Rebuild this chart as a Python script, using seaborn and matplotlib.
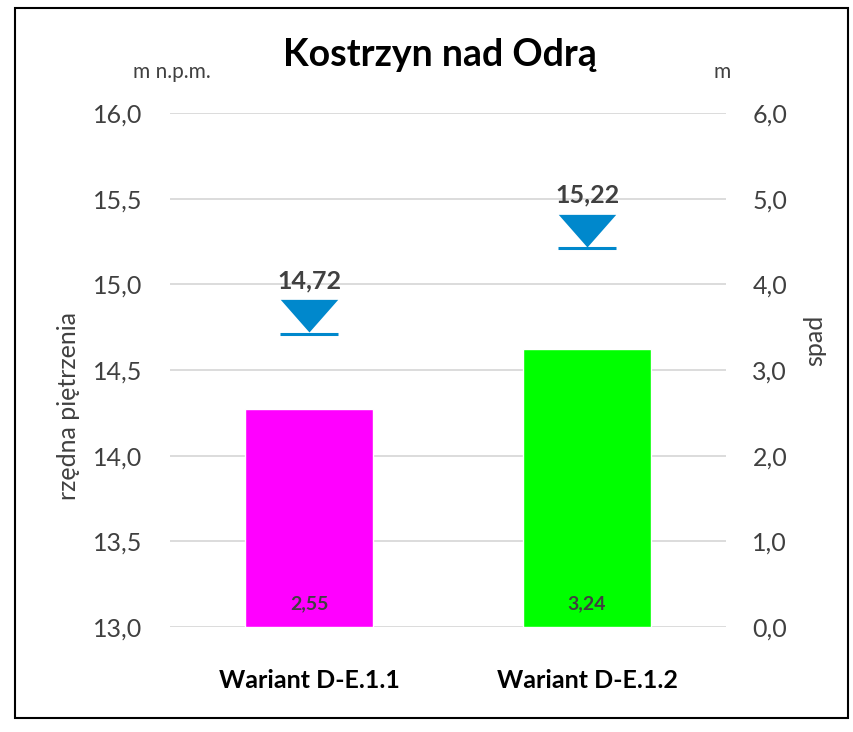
import numpy as np
import pandas as pd
import matplotlib
matplotlib.use("Agg")
import matplotlib.pyplot as plt
from matplotlib.path import Path
from matplotlib.patches import Rectangle
from matplotlib.ticker import FuncFormatter, MultipleLocator
import seaborn as sns

# data
warianty = ["Wariant D-E.1.1", "Wariant D-E.1.2"]
spad = [2.55, 3.24]              # m (right axis, bars)
rzedna = [14.72, 15.22]          # m n.p.m. (left axis, water level markers)
bar_colors = ["#FF00FF", "#00FF00"]

sns.set_theme(style="white")
plt.rcParams["font.family"] = ["Lato", "DejaVu Sans"]

def comma(fmt):
    return FuncFormatter(lambda v, p: (fmt % v).replace(".", ","))

fig = plt.figure(figsize=(8.54, 7.32), dpi=100)
ax = fig.add_axes([170 / 854, 1 - 627 / 732, 556 / 854, 514 / 732])
ax2 = ax.twinx()

# left axis: water level
ax.set_ylim(13.0, 16.0)
ax.yaxis.set_major_locator(MultipleLocator(0.5))
ax.yaxis.set_major_formatter(comma("%.1f"))
ax.grid(axis="y", color="#d9d9d9", linewidth=1.3)
ax.set_axisbelow(True)

# right axis: bars (spad)
df = pd.DataFrame({"wariant": warianty, "spad": spad})
sns.barplot(data=df, x="wariant", y="spad", hue="wariant", palette=bar_colors,
            width=0.457, legend=False, ax=ax2, saturation=1)
ax2.set_ylim(0, 6)
ax2.yaxis.set_major_locator(MultipleLocator(1))
ax2.yaxis.set_major_formatter(comma("%.1f"))
xs = np.arange(len(warianty))
ax.set_xlim(-0.5, 1.5)
ax.set_xticks(xs)
ax.set_xticklabels(warianty, fontsize=18, fontweight="bold", color="black")

for i, v in enumerate(spad):
    ax2.annotate(("%.2f" % v).replace(".", ","), (i, 0), xytext=(0, 17),
                 textcoords="offset points", ha="center", va="center",
                 fontsize=14, fontweight="bold", color="#404040")

# water level markers on left axis
tri = Path([(-0.88, 1.0), (0.88, 1.0), (0.0, 0.0), (-0.88, 1.0)],
           [Path.MOVETO, Path.LINETO, Path.LINETO, Path.CLOSEPOLY])
for x, lvl in zip(xs, rzedna):
    ax2.plot([x], [lvl], marker=tri, markersize=47, color="#0088CC",
             markeredgewidth=0, linestyle="none", transform=ax.transData)
    ax2.plot([x], [lvl - 0.01], marker="_", markersize=42, color="#0088CC",
             markeredgewidth=2.2, linestyle="none", transform=ax.transData)
    ax2.annotate(("%.2f" % lvl).replace(".", ","), (x, lvl), xycoords=ax.transData,
                 xytext=(0, 37), textcoords="offset points", ha="center",
                 va="center", fontsize=18, fontweight="bold", color="#404040")

for a in (ax, ax2):
    for s in a.spines.values():
        s.set_visible(False)
    a.tick_params(axis="y", length=0, labelsize=18, labelcolor="#404040")
ax.tick_params(axis="x", length=0, pad=30)
ax.tick_params(axis="y", pad=20)
ax2.tick_params(axis="y", pad=19)
ax2.set_xlabel("")
ax2.set_ylabel("")

fig.text(172 / 854, 1 - 72 / 732, "m n.p.m.", ha="center", va="center",
         fontsize=15, color="#404040")
fig.text(722 / 854, 1 - 72 / 732, "m", ha="center", va="center",
         fontsize=15, color="#404040")
fig.text(440 / 854, 1 - 55 / 732, "Kostrzyn nad Odrą", ha="center", va="center",
         fontsize=27, fontweight="bold", color="black")
fig.text(68 / 854, 1 - 406 / 732, "rzędna piętrzenia", ha="center", va="center",
         rotation=90, fontsize=18, color="#404040")
fig.text(815 / 854, 1 - 340 / 732, "spad", ha="center", va="center",
         rotation=90, fontsize=18, color="#404040")

fig.patches.append(Rectangle((15 / 854, 1 - 718 / 732), 833 / 854, 710 / 732,
                             transform=fig.transFigure, fill=False,
                             edgecolor="black", linewidth=1.5))

fig.savefig("out.png", dpi=100, facecolor="white")
